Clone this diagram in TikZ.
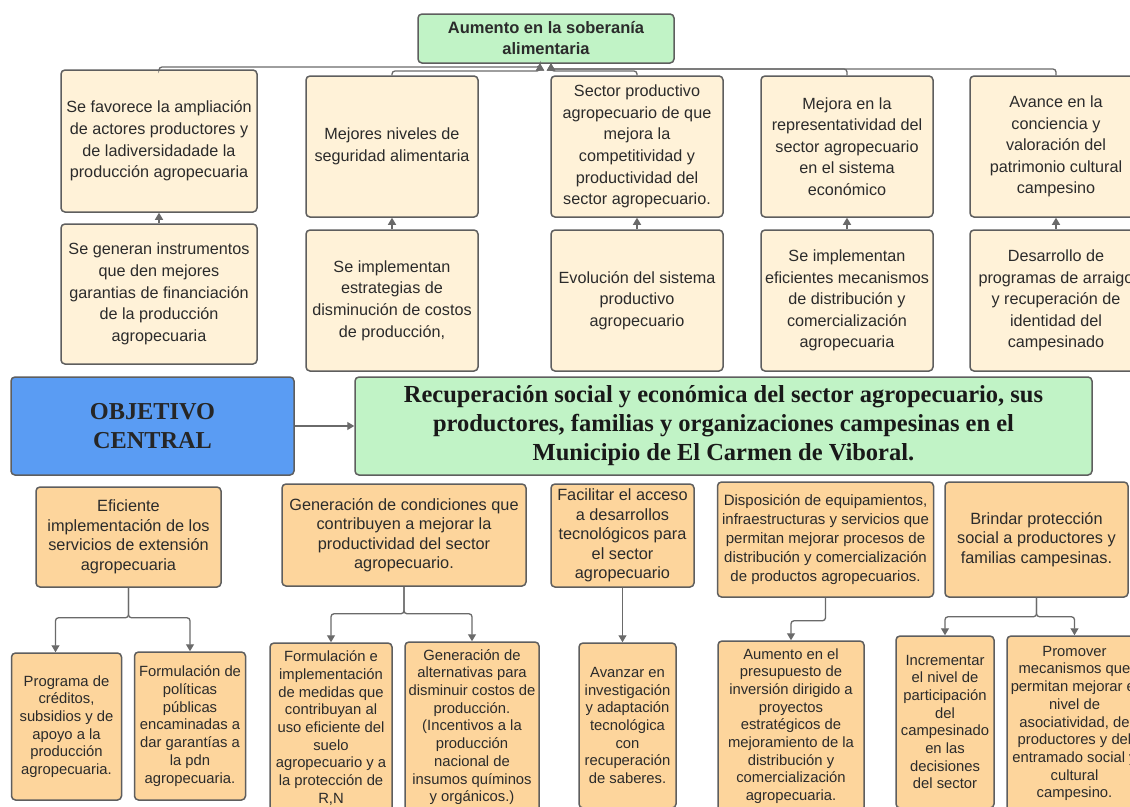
\documentclass[tikz,border=0pt]{standalone}
\usepackage{fontspec}
\setmainfont{Liberation Sans}
\newfontfamily\serifbold{Liberation Serif}
\usetikzlibrary{arrows.meta}

\definecolor{creamfill}{HTML}{FFF2D8}
\definecolor{orangefill}{HTML}{FDD59C}
\definecolor{greenfill}{HTML}{C1F3C6}
\definecolor{bluefill}{HTML}{5A9CF3}
\definecolor{edgegray}{HTML}{5E5E5E}
\definecolor{linkgray}{HTML}{6A6A6A}
\definecolor{textgray}{HTML}{2B2B2B}

\begin{document}
\begin{tikzpicture}[x=1pt, y=-1pt, >={Triangle[length=7pt, width=8pt]},
  box/.style={draw=edgegray, line width=1.5pt, rounded corners=4pt, align=center, inner sep=2pt, text=textgray},
  effect/.style={box, fill=creamfill, font=\fontsize{16.2}{21.6}\selectfont},
  comp/.style={box, fill=orangefill, font=\fontsize{16.3}{19.5}\selectfont},
  act/.style={box, fill=orangefill, font=\fontsize{14.8}{17.7}\selectfont},
  link/.style={draw=linkgray, line width=1.3pt, ->, rounded corners=3pt}]

\useasboundingbox (0,0) rectangle (1130,806);
\clip (0,0) rectangle (1130,806);
\fill[white] (0,0) rectangle (1130,806);

% Top goal
\node[box, fill=greenfill, font=\bfseries\fontsize{16.5}{21}\selectfont, minimum width=256pt, minimum height=49pt] (aum) at (546,38.5) {Aumento en la soberanía\\alimentaria};

% Effects
\node[effect, minimum width=196pt, minimum height=142pt] (e1) at (159,141) {Se favorece la ampliación\\de actores productores y\\de ladiversidadade la\\producción agropecuaria};
\node[effect, minimum width=172pt, minimum height=141pt] (e2) at (392,146.5) {Mejores niveles de\\seguridad alimentaria};
\node[effect, minimum width=172pt, minimum height=141pt] (e3) at (637,146.5) {Sector productivo\\agropecuario de que\\mejora la\\competitividad y\\productividad del\\sector agropecuario.};
\node[effect, minimum width=172pt, minimum height=141pt] (e4) at (847,146.5) {Mejora en la\\representatividad del\\sector agropecuario\\en el sistema\\económico};
\node[effect, minimum width=172pt, minimum height=141pt] (e5) at (1056,146.5) {Avance en la\\conciencia y\\valoración del\\patrimonio cultural\\campesino};

% Causes
\node[effect, minimum width=196pt, minimum height=140pt] (c1) at (159,294) {Se generan instrumentos\\que den mejores\\garantias de financiación\\de la producción\\agropecuaria};
\node[effect, minimum width=172pt, minimum height=141pt] (c2) at (392,300.5) {Se implementan\\estrategias de\\disminución de costos\\de producción,};
\node[effect, minimum width=172pt, minimum height=141pt] (c3) at (637,300.5) {Evolución del sistema\\productivo\\agropecuario};
\node[effect, minimum width=172pt, minimum height=141pt] (c4) at (847,300.5) {Se implementan\\eficientes mecanismos\\de distribución y\\comercialización\\agropecuaria};
\node[effect, minimum width=172pt, minimum height=141pt] (c5) at (1056,300.5) {Desarrollo de\\programas de arraigo\\y recuperación de\\identidad del\\campesinado};

% Cause -> effect
\foreach \i in {1,...,5} {
  \draw[link] (c\i.north) -- (e\i.south);
}

% Effects -> goal
\coordinate (tipL) at (540,63.5);
\coordinate (tipR) at (551,63.5);
\draw[link] (e1.north) |- (540,67) -- (tipL);
\draw[link] (e2.north) |- (540,71) -- (tipL);
\draw[link] (e3.north) |- (551,71) -- (tipR);
\draw[link] (e4.north) |- (551,69) -- (tipR);
\draw[link] (e5.north) |- (551,69) -- (tipR);

% Central objective
\node[box, fill=bluefill, text=black!85, font=\serifbold\bfseries\fontsize{24.3}{29}\selectfont, minimum width=283pt, minimum height=98pt] (obj) at (152.5,426) {OBJETIVO\\CENTRAL};
\node[box, fill=greenfill, text=black!90, font=\serifbold\bfseries\fontsize{24.5}{29}\selectfont, minimum width=737pt, minimum height=98pt] (main) at (723.5,426) {Recuperación social y económica del sector agropecuario, sus\\productores, familias y organizaciones campesinas en el\\Municipio de El Carmen de Viboral.};
\draw[link] (obj) -- (main);

% Components
\node[comp, minimum width=185pt, minimum height=100pt] (b1) at (128.5,537) {Eficiente\\implementación de los\\servicios de extensión\\agropecuaria};
\node[comp, minimum width=244pt, minimum height=102pt] (b2) at (404,535) {Generación de condiciones que\\contribuyen a mejorar la\\productividad del sector\\agropecuario.};
\node[comp, minimum width=143pt, minimum height=103pt] (b3) at (622.5,535.5) {Facilitar el acceso\\a desarrollos\\tecnológicos para\\el sector\\agropecuario};
\node[comp, font=\fontsize{15}{19}\selectfont, minimum width=216pt, minimum height=115pt] (b4) at (825.5,539.5) {Disposición de equipamientos,\\infraestructuras y servicios que\\permitan mejorar procesos de\\distribución y comercialización\\de productos agropecuarios.};
\node[comp, minimum width=183pt, minimum height=115pt] (b5) at (1036.5,539.5) {Brindar protección\\social a productores y\\familias campesinas.};

% Activities
\node[act, minimum width=110pt, minimum height=147pt] (a1) at (66.5,726.5) {Programa de\\créditos,\\subsidios y de\\apoyo a la\\producción\\agropecuaria.};
\node[act, minimum width=111pt, minimum height=148pt] (a2) at (190,726) {Formulación de\\políticas\\públicas\\encaminadas a\\dar garantías a\\la pdn\\agropecuaria.};
\node[act, minimum width=122pt, minimum height=170pt] (a3) at (331,728) {Formulación e\\implementación\\de medidas que\\contribuyan al\\uso eficiente del\\suelo\\agropecuario y a\\la protección de\\R,N};
\node[act, minimum width=134pt, minimum height=170pt] (a4) at (472,727) {Generación de\\alternativas para\\disminuir costos de\\producción.\\(Incentivos a la\\producción\\nacional de\\insumos químinos\\y orgánicos.)};
\node[act, minimum width=97pt, minimum height=165pt] (a5) at (627.5,725.5) {Avanzar en\\investigación\\y adaptación\\tecnológica\\con\\recuperación\\de saberes.};
\node[act, minimum width=146pt, minimum height=170pt] (a6) at (791,726) {Aumento en el\\presupuesto de\\inversión dirigido a\\proyectos\\estratégicos de\\mejoramiento de la\\distribución y\\comercialización\\agropecuaria.};
\node[act, minimum width=98pt, minimum height=172pt] (a7) at (945,722) {Incrementar\\el nivel de\\participación\\del\\campesinado\\en las\\decisiones\\del sector};
\node[act, minimum width=135pt, minimum height=175pt] (a8) at (1074.5,723.5) {Promover\\mecanismos que\\permitan mejorar el\\nivel de\\asociatividad, de\\productores y del\\entramado social y\\cultural\\campesino.};

% Components -> activities
\draw[link] (b1.south) -- ++(0,30) -| ([xshift=-11pt]a1.north);
\draw[link] (b1.south) -- ++(0,30) -| (a2.north);
\draw[link] (b2.south) -- ++(0,27) -| (a3.north);
\draw[link] (b2.south) -- ++(0,27) -| (a4.north);
\draw[link] (b3.south) -- (b3.south |- a5.north);
\draw[link] (b4.south) -- ++(0,23) -| (a6.north);
\draw[link] (b5.south) -- ++(0,19) -| (a7.north);
\draw[link] (b5.south) -- ++(0,19) -| (a8.north);

\end{tikzpicture}
\end{document}
